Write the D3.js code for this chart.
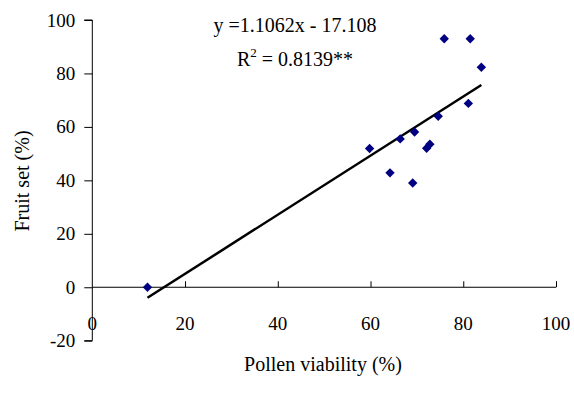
<!DOCTYPE html>
<html><head><meta charset="utf-8">
<script src="https://cdn.jsdelivr.net/npm/d3@7"></script>
<style>body{margin:0;background:#fff}</style>
</head><body><svg id="c" width="574" height="394"></svg>
<script>
const pollenViability = [11.9, 59.8, 64.2, 66.4, 69.1, 69.5, 72.1, 72.8, 74.6, 75.9, 81.1, 81.5, 83.9];
const fruitSet        = [0.0, 51.9, 42.8, 55.5, 39.0, 58.1, 52.0, 53.5, 64.0, 93.0, 68.8, 93.0, 82.3];
const slope = 1.1062, intercept = -17.108;
const xTicks = [0, 20, 40, 60, 80, 100];
const yTicks = [-20, 0, 20, 40, 60, 80, 100];
const eqText = "y =1.1062x - 17.108";

const FONT = '"Liberation Serif", "Times New Roman", serif';
const svg = d3.select("#c");
const x = d3.scaleLinear().domain([0, 100]).range([92.3, 556]);
const y = d3.scaleLinear().domain([-20, 100]).range([340.7, 20]);
const fmt = d => String(d);

// y axis
const ya = svg.append("g").attr("transform", `translate(${x(0)},0)`)
  .call(d3.axisLeft(y).tickValues(yTicks).tickSize(8).tickPadding(9).tickFormat(fmt))
  .attr("font-family", FONT).attr("font-size", 19);
ya.select(".domain").attr("stroke", "#000").attr("d", `M-8,${y(100)}H0V${y(-20)}H-8`);
ya.selectAll("text").style("font-family", FONT).style("font-size", "19px").attr("fill", "#000");

// x axis at y=0, ticks pointing up, labels below
const xa = svg.append("g").attr("transform", `translate(0,${y(0)})`)
  .call(d3.axisTop(x).tickValues(xTicks).tickSize(6).tickFormat(""));
xa.select(".domain").attr("stroke", "#000").attr("d", `M${x(0)},0H${x(100)}`);
xa.selectAll(".tick").filter(d => d === 0).select("line").remove();
svg.append("g").selectAll("text").data(xTicks).join("text")
  .attr("x", d => x(d)).attr("y", 330).attr("text-anchor", "middle")
  .style("font-family", FONT).style("font-size", "19px").text(fmt);

// trendline
const x0 = d3.min(pollenViability), x1 = d3.max(pollenViability);
svg.append("line")
  .attr("x1", x(x0)).attr("y1", y(slope * x0 + intercept))
  .attr("x2", x(x1)).attr("y2", y(slope * x1 + intercept))
  .attr("stroke", "#000").attr("stroke-width", 2.5);

// points
const sym = d3.symbol().type(d3.symbolSquare).size(44);
svg.append("g").selectAll("path").data(pollenViability).join("path")
  .attr("d", sym)
  .attr("transform", (d, i) => `translate(${x(d)},${y(fruitSet[i])}) rotate(45)`)
  .attr("fill", "#000080");

// equation
svg.append("text").attr("x", 295).attr("y", 32).attr("text-anchor", "middle")
  .style("font-family", FONT).style("font-size", "20px").text(eqText);
const r = svg.append("text").attr("x", 295).attr("y", 66).attr("text-anchor", "middle")
  .style("font-family", FONT).style("font-size", "20px");
r.append("tspan").text("R");
r.append("tspan").attr("dy", -9).style("font-size", "13px").text("2");
r.append("tspan").attr("dy", 9).text(" = 0.8139**");

// axis titles
svg.append("text").attr("x", 323).attr("y", 371).attr("text-anchor", "middle")
  .style("font-family", FONT).style("font-size", "20px").text("Pollen viability (%)");
svg.append("text").attr("transform", "translate(29,181) rotate(-90)").attr("text-anchor", "middle")
  .style("font-family", FONT).style("font-size", "20px").text("Fruit set (%)");
</script></body></html>
